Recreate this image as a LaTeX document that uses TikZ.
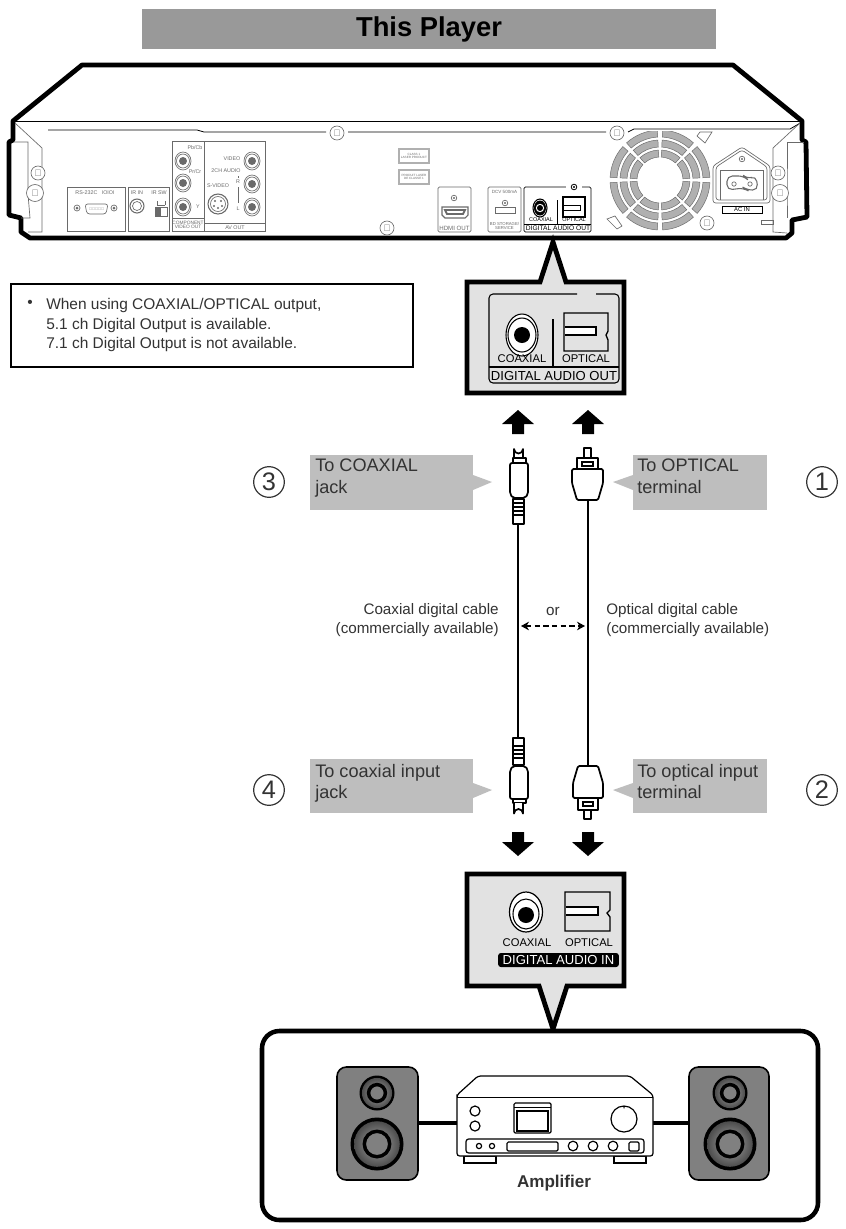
\documentclass[tikz,border=0pt]{standalone}
\usepackage{fontspec}
\setmainfont{Liberation Sans}
\usetikzlibrary{arrows.meta}
\definecolor{txt}{HTML}{333333}
\definecolor{panelgray}{HTML}{6A6A6A}
\definecolor{titlegray}{HTML}{999999}
\definecolor{calloutfill}{HTML}{E2E2E2}
\definecolor{taggray}{HTML}{BEBEBE}
\definecolor{fangray}{HTML}{B0B0B0}
\definecolor{spk}{HTML}{808080}
\newcommand{\fsz}[1]{\fontsize{#1}{#1}\selectfont}
\newcommand{\rcajack}[2]{%
  \draw[thin panel,fill=white] (#1,#2) ellipse[x radius=8,y radius=9];
  \draw[thin panel] (#1,#2) ellipse[x radius=6.5,y radius=7];
  \fill[panelgray] (#1,#2) circle[radius=4];}
\newcommand{\screw}[3]{%
  \draw[thin panel,fill=white] (#1,#2) circle[radius=#3];
  \node[font=\fsz{7},text=panelgray,inner sep=0pt] at (#1,#2) {✖};}
\newcommand{\drv}[4]{%
  \fill[black] (#1,#2) circle[radius=#3];
  \shade[inner color=#4!70!white,outer color=#4!60!black] (#1,#2) circle[radius=#3*0.86];
  \draw[black,line width=2.6pt,fill=spk] (#1,#2) circle[radius=#3*0.48];}
\tikzset{
  thin panel/.style={draw=panelgray,line width=0.5pt},
  blackline/.style={draw=black,line width=0.75pt},
  hull/.style={draw=black,line width=3.6pt,line join=round},
  callout/.style={draw=black,fill=calloutfill,line width=3.6pt,line join=miter},
  tag/.style={fill=taggray,draw=none},
  tagtext/.style={font=\fsz{13.6},text=txt,align=left,anchor=north west,inner sep=0pt},
  cabletext/.style={font=\fsz{11.4},text=txt,inner sep=0pt},
  tiny/.style={font=\fsz{4},text=panelgray,inner sep=0pt,align=center},
  smallb/.style={font=\fsz{8.6},text=black,inner sep=0pt},
  numcirc/.style={circle,draw=txt,line width=0.9pt,minimum size=23pt,inner sep=0pt,font=\fsz{19},text=txt},
  plug/.style={draw=black,line width=1.3pt,fill=white,line join=round},
  bigarrow/.style={fill=black,draw=none},
  cable/.style={draw=black,line width=1.4pt},
  ampline/.style={draw=black,line width=0.9pt,fill=white},
}
\begin{document}
\begin{tikzpicture}[x=0.75pt,y=-0.75pt]
\useasboundingbox (0,0) rectangle (846,1229);
\fill[white] (0,0) rectangle (846,1229);
% title
\node[fill=titlegray,minimum width=430.5pt,minimum height=30pt,inner sep=0pt,font=\bfseries\fsz{20.5},text=black] (title) at (429,29) {This Player};
% player hull
\draw[hull,fill=white] (82,65) -- (733,65) -- (802,121) -- (802,140) -- (806,142) -- (807,217) -- (792,220) -- (792,233) -- (786,238) -- (30,238) -- (21,232) -- (21,218) -- (9,215) -- (9,142) -- (13,140) -- (13,121) -- cycle;
\draw[black,line width=0.7pt] (14,121) -- (801,121);
\draw[black,line width=0.6pt] (48,130) -- (197,130) -- (204,132) -- (326,132) (348,132) -- (606,132) (628,132) -- (634,129) -- (790,129) -- (802,122);
\draw[thin panel] (15,123) -- (42,148) -- (42,232) -- (28,232);
\draw[thin panel] (14,142) -- (28,142) -- (28,194) -- (30,218) -- (21,218);
\draw[thin panel] (800,123) -- (773,148) -- (773,232) -- (787,233);
\draw[thin panel] (804,142) -- (787,142) -- (787,194) -- (787,218);
\draw[thin panel] (761,220) rectangle (773,224);
% panels left
\draw[thin panel] (67,187) rectangle (125,231);
\draw[thin panel] (128,187) rectangle (169,231);
\draw[thin panel] (172,141) rectangle (204,231);
\draw[thin panel] (172,218) -- (204,218);
\draw[thin panel] (204,141) rectangle (265,231);
\draw[thin panel] (204,223) -- (265,223);
\node[tiny] (t1) at (95,193) {RS-232C \ \ IOIOI};
\draw[thin panel,rounded corners=2pt] (85,204) -- (108,204) -- (106,214) -- (87,214) -- cycle;
\node[tiny] (t2) at (96.5,209) {\fsz{3}∘∘∘∘∘};
\draw[thin panel] (77,208) circle[radius=3]; \fill[panelgray] (77,208) circle[radius=1.5];
\draw[thin panel] (114,208) circle[radius=3]; \fill[panelgray] (114,208) circle[radius=1.5];
\node[tiny] (t3) at (137,193) {IR IN};
\node[tiny] (t4) at (159,193) {IR SW};
\draw[thin panel,line width=0.8pt] (137,206) circle[radius=7];
\draw[thin panel] (137,206) circle[radius=4.5];
\draw[thin panel] (155,207) rectangle (167,216);
\fill[panelgray] (155,207) rectangle (161,216);
\draw[thin panel] (157,205) -- (157,201) (165,205) -- (165,201) (157,205) -- (165,205);
\rcajack{183}{161}\rcajack{183}{183}\rcajack{183}{207}
\rcajack{252}{161}\rcajack{252}{184}\rcajack{252}{207}
\node[tiny] (t5) at (195,148) {Pb/Cb};
\node[tiny] (t6) at (195,172) {Pr/Cr};
\node[tiny] (t7) at (198,207) {Y};
\node[tiny,font=\fsz{3.6}] (t8) at (188,224.5) {COMPONENT\\[-0.5pt]VIDEO OUT};
\node[tiny] (t9) at (232,159) {VIDEO};
\node[tiny] (t10) at (226,171) {2CH AUDIO};
\node[tiny] (t11) at (218,186) {S-VIDEO};
\node[tiny] (t12) at (238,182) {R};
\node[tiny] (t13) at (238,209) {L};
\draw[thin panel] (238,176) -- (238,178) (238,187) -- (238,203);
\node[tiny] (t14) at (235,227.5) {AV OUT};
\draw[thin panel,line width=0.8pt] (218,204) circle[radius=10];
\draw[thin panel] (218,204) circle[radius=7.5];
\foreach \p in {(215,201),(221,201),(214,206),(222,206),(218,208)} \fill[panelgray] \p circle[radius=1.1];
% laser labels
\draw[draw=fangray,line width=1.1pt] (399,149) rectangle (429,163);
\draw[draw=fangray,line width=1.1pt] (399,170) rectangle (429,184);
\node[tiny,font=\fsz{2.3}] (t15) at (414,156) {CLASS 1\\LASER PRODUCT};
\node[tiny,font=\fsz{2.3}] (t16) at (414,177) {PRODUIT LASER\\DE CLASSE 1};
% hdmi etc
\draw[thin panel,rounded corners=1pt] (438,187) rectangle (471,232);
\draw[thin panel,line width=0.8pt] (442,207) -- (468,207) -- (468,215) -- (465,218) -- (445,218) -- (442,215) -- cycle;
\draw[panelgray,line width=1.4pt] (445,210) -- (465,210) -- (463,214) -- (447,214) -- cycle;
\draw[thin panel] (454,198) circle[radius=2.8]; \fill[panelgray] (454,198) circle[radius=1.2];
\node[tiny,font=\fsz{4.6}] (t17) at (454.5,228) {HDMI OUT};
\draw[thin panel,rounded corners=1pt] (488,187) rectangle (521,232);
\node[tiny,font=\fsz{3.4}] (t18) at (504.5,191.5) {DCV 500mA};
\draw[thin panel] (495,207) rectangle (515,213);
\draw[thin panel] (505,203) circle[radius=2.8]; \fill[panelgray] (505,203) circle[radius=1.2];
\node[tiny,font=\fsz{3.2}] (t19) at (504.5,226) {BD STORAGE/\\[-0.5pt]SERVICE};
\draw[black,line width=0.6pt,rounded corners=1pt] (524,187) rectangle (591,232);
\fill[white] (566,186) rectangle (582,188);
\draw[black,line width=0.6pt] (524,224) -- (591,224);
\draw[black,line width=0.6pt] (557,200) -- (557,224);
\draw[black,line width=0.8pt] (540,208) ellipse[x radius=7,y radius=9];
\fill[black] (540,208) ellipse[x radius=6,y radius=7.5];
\fill[white] (540,208) circle[radius=4.2];
\fill[black] (540,208) circle[radius=3];
\draw[black,line width=0.8pt,fill=white] (563,197) rectangle (585,217);
\draw[black,line width=0.7pt] (563,205) -- (580,205) -- (580,210) -- (563,210);
\draw[black,line width=0.6pt] (574,187) circle[radius=2.8]; \fill[black] (574,187) circle[radius=1.1];
\node[tiny,text=black,font=\fsz{4.1}] (t20) at (541,220) {COAXIAL};
\node[tiny,text=black,font=\fsz{4.1}] (t21) at (574,220) {OPTICAL};
\node[tiny,text=black,font=\fsz{5}] (t22) at (558,228.5) {DIGITAL AUDIO OUT};
% fan
\begin{scope}
\clip (600,131) rectangle (715,235);
\begin{scope}[shift={(660,180)}]
\foreach \ra/\rb in {43/50,33/40,23/30}{
  \foreach \s in {0,45,...,315}{
    \pgfmathsetmacro{\sa}{\s+3}\pgfmathsetmacro{\sb}{\s+42}
    \draw[fill=fangray,draw=panelgray,line width=0.35pt] (\sa:\rb) arc[start angle=\sa,end angle=\sb,radius=\rb] -- (\sb:\ra) arc[start angle=\sb,end angle=\sa,radius=\ra] -- cycle;
  }
}
\end{scope}
\end{scope}
\draw[thin panel,fill=white] (607,219) -- (615,216) -- (622,226) -- (617,229) -- cycle;
\draw[thin panel,fill=white] (700,132) -- (712,132) -- (705,143) -- (697,136) -- cycle;
% AC IN
\draw[thin panel,rounded corners=2pt] (713,166) -- (742,147) -- (770,166) -- (770,203) -- (713,203) -- cycle;
\draw[thin panel,rounded corners=2pt] (716,167) -- (742,150) -- (767,167) -- (767,200) -- (716,200) -- cycle;
\draw[thin panel] (720,170) -- (763,170) -- (763,172) (720,170) -- (720,200) (763,170) -- (763,200);
\draw[panelgray,line width=0.8pt,rounded corners=4pt] (727,176) -- (744,176) -- (747,179) -- (756,176) -- (758,190) -- (747,190) -- (744,188) -- (727,190) -- cycle;
\draw[thin panel] (734,184) circle[radius=2.2] (750,184) circle[radius=2.2];
\draw[thin panel] (742,159) circle[radius=2.8]; \fill[panelgray] (742,159) circle[radius=1.1];
\draw[black,line width=0.6pt] (722,206) rectangle (762,213);
\node[tiny,text=black,font=\fsz{4.4}] (t23) at (742,209.5) {AC IN};
% screws
\screw{337}{133}{7}\screw{387}{228}{7}\screw{38}{173}{7}\screw{35}{193}{8.5}
\screw{617}{133}{7}\screw{707}{223}{7}\screw{778}{173}{7}\screw{780}{193}{8.5}
% note box
\draw[draw=black,line width=1.5pt] (10.5,284) rectangle (412.5,367);
\node[font=\fsz{11.6},text=txt,inner sep=0pt] (bullet) at (30,304) {•};
\node[font=\fsz{11.6},text=txt,align=left,anchor=west,inner sep=0pt] (note) at (46,325) {When using COAXIAL/OPTICAL output,\\[3.2pt]5.1 ch Digital Output is available.\\[3.2pt]7.1 ch Digital Output is not available.};
% upper callout
\draw[callout] (467,282) -- (540,282) -- (553,242) -- (566,282) -- (624,282) -- (624,393) -- (467,393) -- cycle;
\draw[black,line width=0.8pt,rounded corners=3pt] (577,294) -- (489,294) -- (489,383) -- (619,383) -- (619,294) -- (596,294);
\draw[black,line width=0.9pt] (489,367) -- (619,367);
\draw[black,line width=0.9pt] (553,319) -- (553,367);
\draw[black,line width=0.8pt,fill=white] (522,335) ellipse[x radius=16,y radius=21];
\draw[black,line width=0.8pt] (522,335) ellipse[x radius=14,y radius=17];
\fill[black] (522,335) circle[radius=8];
\draw[black,line width=1pt,fill=calloutfill] (564,313) -- (608,313) -- (608,331) -- (606,335) -- (608,340) -- (608,351) -- (564,351) -- cycle;
\draw[black,line width=1pt,fill=white] (565,327) -- (596,327) -- (596,335) -- (565,335);
\node[font=\fsz{8.4},text=black,inner sep=0pt] (ucoax) at (522,359) {COAXIAL};
\node[font=\fsz{8.4},text=black,inner sep=0pt] (uopt) at (586,359) {OPTICAL};
\node[font=\fsz{9.8},text=black,inner sep=0pt] (udig) at (554,376) {DIGITAL AUDIO OUT};
% arrows up
\fill[bigarrow] (518,410) -- (534,424) -- (524,424) -- (524,434) -- (512,434) -- (512,424) -- (502,424) -- cycle;
\fill[bigarrow] (588,410) -- (604,424) -- (594,424) -- (594,434) -- (582,434) -- (582,424) -- (572,424) -- cycle;
% tags
\fill[tag] (310,455) rectangle (473,510);
\fill[tag] (473,475) -- (492,482) -- (473,490) -- cycle;
\node[tagtext] (tagA) at (315,459) {To COAXIAL\\[2.4pt]jack};
\fill[tag] (633,455) rectangle (767,510);
\fill[tag] (633,475) -- (613,482) -- (633,490) -- cycle;
\node[tagtext] (tagB) at (637,459) {To OPTICAL\\[2.4pt]terminal};
\fill[tag] (310,759) rectangle (473,813);
\fill[tag] (473,783) -- (492,790) -- (473,798) -- cycle;
\node[tagtext] (tagC) at (315,764) {To coaxial input\\[2.4pt]jack};
\fill[tag] (633,759) rectangle (767,813);
\fill[tag] (633,783) -- (613,790) -- (633,798) -- cycle;
\node[tagtext] (tagD) at (637,764) {To optical input\\[2.4pt]terminal};
% numbers
\node[numcirc] (n3) at (269,482) {3};
\node[numcirc] (n1) at (822,482) {1};
\node[numcirc] (n4) at (269,790) {4};
\node[numcirc] (n2) at (822,790) {2};
% cables
\coordinate (ca) at (518,520);
\coordinate (cb) at (518,740);
\coordinate (oa) at (588,498);
\coordinate (ob) at (588,767);
\draw[cable] (ca) -- (cb);
\draw[cable] (oa) -- (ob);
% upper coax plug
\draw[plug] (514,458) -- (514,449) arc[start angle=180,end angle=0,radius=4.5] -- (523,458);
\draw[plug] (513,458) rectangle (526,463);
\draw[plug,rounded corners=1.5pt] (510,463) -- (528,463) -- (528,494) -- (525,498) -- (513,498) -- (510,494) -- cycle;
\draw[plug] (513,499) rectangle (524,524);
\foreach \yy in {503,507,511,515} \draw[black,line width=1pt] (513,\yy) -- (524,\yy);
% upper optical plug
\draw[plug] (584,448) rectangle (591,458);
\draw[plug] (577,458) rectangle (598,469);
\draw[black,line width=0.9pt] (582,462) rectangle (593,466);
\draw[plug,rounded corners=1pt] (572,469) -- (603,469) -- (603,483) -- (598,500) -- (577,500) -- (572,483) -- cycle;
% lower coax plug
\draw[plug] (513,738) rectangle (524,765);
\foreach \yy in {746,750,754,758} \draw[black,line width=1pt] (513,\yy) -- (524,\yy);
\draw[plug,rounded corners=1.5pt] (513,766) -- (525,766) -- (528,770) -- (528,799) -- (510,799) -- (510,770) -- cycle;
\draw[plug] (513,799) rectangle (526,803);
\draw[plug] (514,803) -- (514,813.5) arc[start angle=180,end angle=360,radius=4.5] -- (523,803);
% lower optical plug
\draw[plug,rounded corners=1pt] (578,766) -- (598,766) -- (603,783) -- (603,798) -- (573,798) -- (573,783) -- cycle;
\draw[plug] (578,798) rectangle (598,810);
\draw[black,line width=0.9pt] (583,802) rectangle (593,806);
\draw[plug] (584,810) rectangle (591,819);
% cable labels
\node[cabletext,align=right,anchor=east] (clab) at (499,620) {Coaxial digital cable\\[3pt](commercially available)};
\node[cabletext,align=left,anchor=west] (olab) at (606,620) {Optical digital cable\\[3pt](commercially available)};
\node[cabletext] (ortxt) at (553,611) {or};
\coordinate (da) at (521,626);
\coordinate (db) at (585,626);
\draw[black,line width=1.4pt,dash pattern=on 4pt off 2.5pt,{Stealth[length=6pt,width=6.5pt]}-{Stealth[length=6pt,width=6.5pt]}] (da) -- (db);
% arrows down
\fill[bigarrow] (518,856) -- (534,842) -- (524,842) -- (524,832) -- (512,832) -- (512,842) -- (502,842) -- cycle;
\fill[bigarrow] (588,856) -- (604,842) -- (594,842) -- (594,832) -- (582,832) -- (582,842) -- (572,842) -- cycle;
% lower callout
\draw[callout] (467,874) -- (624,874) -- (624,986) -- (567,986) -- (553,1029) -- (539,986) -- (467,986) -- cycle;
\draw[black,line width=0.9pt,fill=white] (526,912) ellipse[x radius=16.5,y radius=20];
\draw[black,line width=0.8pt] (526,914) ellipse[x radius=13,y radius=15];
\fill[black] (526,915) circle[radius=8];
\draw[black,line width=1pt,fill=calloutfill] (565,892) -- (610,892) -- (610,910) -- (607,913) -- (610,917) -- (610,931) -- (565,931) -- cycle;
\draw[black,line width=1pt,fill=white] (566,907) -- (598,907) -- (598,915) -- (566,915);
\node[font=\fsz{8.4},text=black,inner sep=0pt] (lcoax) at (527,943) {COAXIAL};
\node[font=\fsz{8.4},text=black,inner sep=0pt] (lopt) at (589,943) {OPTICAL};
\node[fill=black,rounded corners=2pt,minimum width=90.5pt,minimum height=10.5pt,inner sep=0pt,font=\fsz{9.8},text=white] (ldig) at (558.5,960) {DIGITAL AUDIO IN};
% amplifier box
\draw[draw=black,line width=3.4pt,rounded corners=13pt,fill=white] (262,1031) rectangle (818,1220);
\draw[draw=black,line width=3.6pt] (418,1123) -- (457,1123);
\draw[draw=black,line width=3.6pt] (652,1123) -- (689,1123);
\draw[draw=black,line width=1.2pt,fill=spk,rounded corners=7pt] (337,1067) rectangle (418,1180);
\draw[draw=black,line width=1.2pt,fill=spk,rounded corners=7pt] (689,1067) rectangle (769,1180);
\drv{377}{1093}{17.5}{gray}
\drv{377}{1144}{26.5}{gray}
\drv{730}{1093}{17.5}{gray}
\drv{730}{1144}{26.5}{gray}
% amplifier
\draw[ampline] (464,1156) rectangle (496,1163);
\draw[ampline] (614,1156) rectangle (646,1163);
\draw[ampline,rounded corners=2pt] (457,1097) -- (457,1095) -- (478,1076) -- (630,1076) -- (653,1095) -- (653,1156) -- (457,1156) -- cycle;
\draw[black,line width=0.7pt] (457,1097) -- (653,1097);
\draw[ampline] (475,1111) circle[radius=5];
\draw[ampline] (475,1126) circle[radius=5];
\draw[ampline,rounded corners=1pt] (514,1103) rectangle (551,1133);
\draw[black,line width=0.7pt] (514,1107) -- (551,1107);
\draw[black,line width=0.9pt] (517,1111) rectangle (548,1131);
\draw[ampline] (624,1119) circle[radius=13];
\fill[black] (623,1106) -- (625,1106) -- (624,1109) -- cycle;
\draw[ampline,rounded corners=2pt] (466,1139) rectangle (644,1153);
\draw[ampline] (479,1146) circle[radius=2.6];
\draw[ampline] (492,1146) circle[radius=2.6];
\draw[ampline,rounded corners=1pt] (507,1142) rectangle (558,1151);
\draw[ampline] (573,1146) circle[radius=4.8];
\draw[ampline] (593,1146) circle[radius=4.8];
\draw[ampline] (613,1146) circle[radius=4.8];
\draw[ampline,rounded corners=1pt] (629,1142) rectangle (639,1151);
\node[font=\bfseries\fsz{12.8},text=txt,inner sep=0pt] (amp) at (554,1183.5) {Amplifier};
\end{tikzpicture}
\end{document}
